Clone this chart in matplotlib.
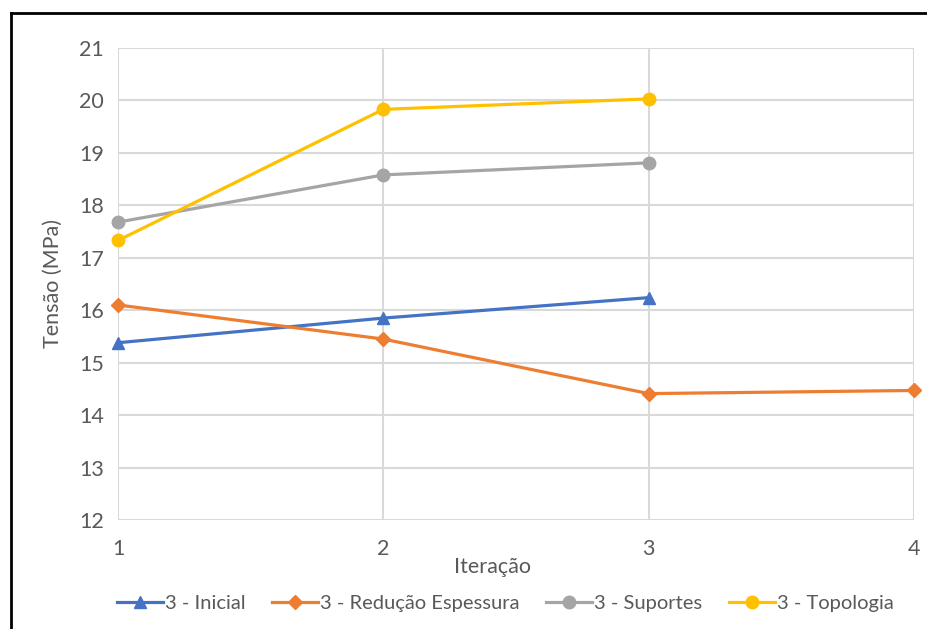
import matplotlib.pyplot as plt
from matplotlib.lines import Line2D

plt.rcParams['font.family'] = ['Lato', 'DejaVu Sans']

# Data
iteracoes = [1, 2, 3, 4]
inicial = [15.38, 15.85, 16.24]
reducao = [16.10, 15.45, 14.41, 14.47]
suportes = [17.68, 18.58, 18.81]
topologia = [17.33, 19.83, 20.03]

text_color = '#595959'
grid_color = '#D9D9D9'

fig = plt.figure(figsize=(9.27, 6.29), dpi=100)
ax = fig.add_axes([0.1273, 0.1733, 0.986 - 0.1273, 0.9237 - 0.1733])

ax.plot(iteracoes[:3], inicial, color='#4472C4', lw=2.3, marker='^', ms=9,
        label='3 - Inicial', zorder=3, clip_on=False)
ax.plot(iteracoes, reducao, color='#ED7D31', lw=2.3, marker='D', ms=7,
        label='3 - Redução Espessura', zorder=3, clip_on=False)
ax.plot(iteracoes[:3], suportes, color='#A5A5A5', lw=2.3, marker='o', ms=9,
        label='3 - Suportes', zorder=3, clip_on=False)
ax.plot(iteracoes[:3], topologia, color='#FFC000', lw=2.3, marker='o', ms=9,
        label='3 - Topologia', zorder=3, clip_on=False)

ax.set_xlim(1, 4)
ax.set_ylim(12, 21)
ax.set_xticks(iteracoes)
ax.set_yticks(range(12, 22))
ax.grid(True, color=grid_color, lw=1.5)
for s in ax.spines.values():
    s.set_visible(False)
ax.tick_params(length=0, labelsize=15.5, colors=text_color)
ax.tick_params(axis='x', pad=14)
ax.tick_params(axis='y', pad=10)
ax.set_xlabel('Iteração', fontsize=15.5, color=text_color, labelpad=-2, x=0.47)
ax.set_ylabel('Tensão (MPa)', fontsize=15.5, color=text_color, labelpad=12)

fig.legend(loc='center', bbox_to_anchor=(0.545, 0.04), ncol=4, frameon=False,
           fontsize=14.5, labelcolor=text_color, handlelength=2.3,
           handletextpad=0.1, columnspacing=1.3)

# black frame (top and left edges)
fig.add_artist(Line2D([0.0115, 1.0], [1 - 13 / 629, 1 - 13 / 629],
                      transform=fig.transFigure, color='black', lw=2))
fig.add_artist(Line2D([0.0115, 0.0115], [0.0, 1 - 13 / 629],
                      transform=fig.transFigure, color='black', lw=2))

fig.savefig('out.png', dpi=100)
